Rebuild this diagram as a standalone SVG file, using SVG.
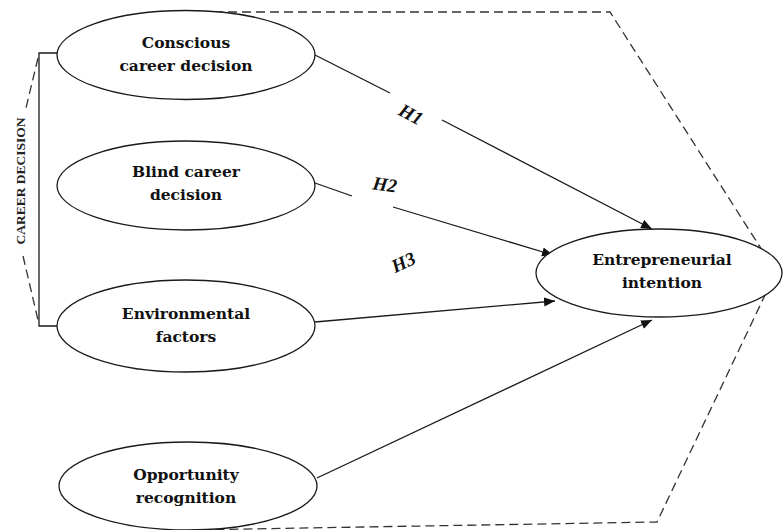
<svg xmlns="http://www.w3.org/2000/svg" width="783" height="530" viewBox="0 0 783 530">
  <style>
    .node ellipse { fill: #ffffff; stroke: #1a1a1a; stroke-width: 1.3; }
    .node text { font-family: "DejaVu Serif", "Liberation Serif", serif; font-weight: bold; font-size: 15.5px; fill: #111; text-anchor: middle; }
    .conn { stroke: #1a1a1a; stroke-width: 1.3; fill: none; }
    .dash { stroke: #333; stroke-width: 1.3; fill: none; stroke-dasharray: 9 5; }
    .hlabel { font-family: "Liberation Serif", serif; font-style: italic; font-weight: bold; font-size: 19px; fill: #111; text-anchor: middle; }
    .side { font-family: "Liberation Serif", serif; font-weight: bold; font-size: 13.5px; fill: #222; text-anchor: middle; }
  </style>
  <defs>
    <marker id="arrow" markerUnits="userSpaceOnUse" markerWidth="12" markerHeight="10" refX="11" refY="4.5" orient="auto">
      <path d="M0,0 L11,4.5 L0,9 z" fill="#111"/>
    </marker>
  </defs>
  <rect width="783" height="530" fill="#ffffff"/>

  <g id="boundary">
    <polyline class="dash" points="186,12 610,12 776,272 657,522 188,530"/>
  </g>

  <g id="career-decision-bracket">
    <polyline class="conn" points="57,53 39,53 39,326 57,326"/>
    <line class="dash" x1="38" y1="58" x2="25" y2="112" stroke-dasharray="8 5"/>
    <line class="dash" x1="23" y1="256" x2="38" y2="320" stroke-dasharray="8 5"/>
    <text class="side" transform="translate(25,181) rotate(-90)">CAREER DECISION</text>
  </g>

  <g id="connectors">
    <line class="conn" x1="315" y1="55" x2="390" y2="93"/>
    <line class="conn" x1="442" y1="120" x2="652" y2="229" marker-end="url(#arrow)"/>
    <line class="conn" x1="315" y1="183" x2="352" y2="196"/>
    <line class="conn" x1="393" y1="207" x2="553" y2="255" marker-end="url(#arrow)"/>
    <line class="conn" x1="315" y1="322" x2="555" y2="301" marker-end="url(#arrow)"/>
    <line class="conn" x1="317" y1="478" x2="652" y2="320" marker-end="url(#arrow)"/>
    <text class="hlabel" transform="translate(408,120) rotate(28)">H1</text>
    <text class="hlabel" transform="translate(384,191) rotate(8)">H2</text>
    <text class="hlabel" transform="translate(406,268) rotate(-25)">H3</text>
  </g>

  <g id="conscious" class="node">
    <ellipse cx="186" cy="55" rx="129" ry="44.5"/>
    <text x="186" y="48">Conscious</text>
    <text x="186" y="71">career decision</text>
  </g>
  <g id="blind" class="node">
    <ellipse cx="186" cy="185.5" rx="129" ry="44.5"/>
    <text x="186" y="177">Blind career</text>
    <text x="186" y="200">decision</text>
  </g>
  <g id="environmental" class="node">
    <ellipse cx="186" cy="326" rx="129" ry="46"/>
    <text x="186" y="319">Environmental</text>
    <text x="186" y="342">factors</text>
  </g>
  <g id="opportunity" class="node">
    <ellipse cx="188" cy="486" rx="129" ry="44"/>
    <text x="186" y="480">Opportunity</text>
    <text x="186" y="503">recognition</text>
  </g>
  <g id="entrepreneurial" class="node">
    <ellipse cx="659" cy="273" rx="123" ry="44"/>
    <text x="662" y="265">Entrepreneurial</text>
    <text x="662" y="288">intention</text>
  </g>
</svg>
